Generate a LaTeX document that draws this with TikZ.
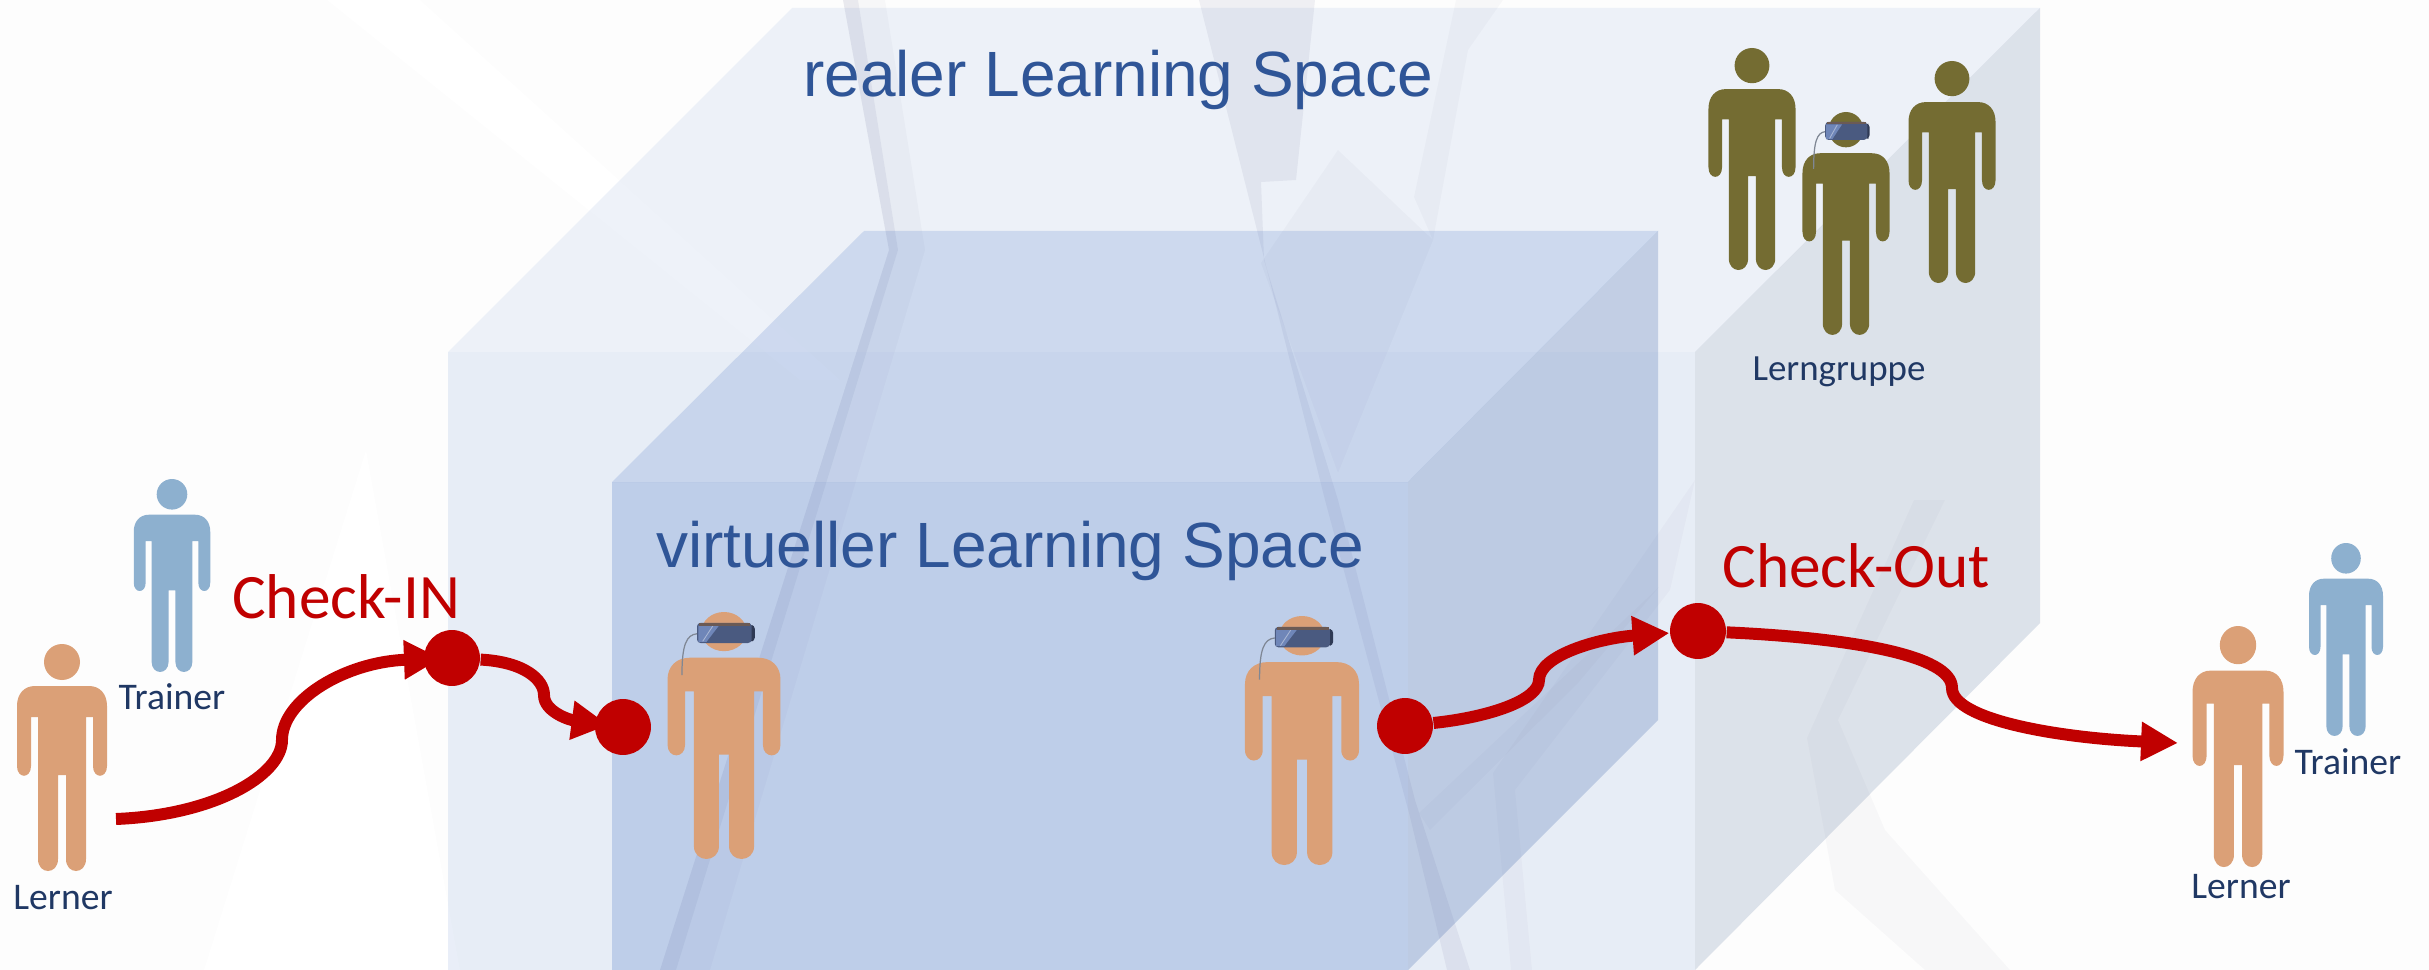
\documentclass[tikz,border=0pt]{standalone}
\usepackage{xcolor}
\usepackage{fontspec}
\setmainfont{Carlito}
\newfontfamily\headfont{Liberation Sans}
\usetikzlibrary{arrows.meta,calc}
\definecolor{backfill}{HTML}{FDFDFD}
\definecolor{learnerfill}{HTML}{DBA077}
\definecolor{trainerfill}{HTML}{8DB0CF}
\definecolor{groupfill}{HTML}{746C32}
\definecolor{labeltext}{HTML}{203864}
\definecolor{headtext}{HTML}{2F5597}
\definecolor{flowred}{HTML}{C00000}
\definecolor{boxblue}{HTML}{4472C4}
\definecolor{boxside}{HTML}{3F5F8F}
\definecolor{innerside}{HTML}{3A62A8}
\definecolor{visormain}{HTML}{4A5A80}
\definecolor{visorlight}{HTML}{6F86B8}
\definecolor{visorend}{HTML}{2F3A55}
\definecolor{visortop}{HTML}{6B5A55}
\definecolor{cablegray}{HTML}{7F8794}
\newcommand{\personshape}{
	\path [pic actions] (0,18) ellipse [x radius=18, y radius=18];
	\path [pic actions] (-27,42) -- (27,42) .. controls (38,42) and (45,50) .. (45,62) -- (45,122) .. controls (45,135) and (31,135) .. (31,122) -- (31,73) -- (24,73) -- (24,215) .. controls (24,231) and (4,231) .. (4,215) -- (4,131) -- (-4,131) -- (-4,215) .. controls (-4,231) and (-24,231) .. (-24,215) -- (-24,73) -- (-31,73) -- (-31,122) .. controls (-31,135) and (-45,135) .. (-45,122) -- (-45,62) .. controls (-45,50) and (-38,42) .. (-27,42) -- cycle;
}
\tikzset{
	pics/person/.style={code={\personshape}},
	pics/vrperson/.style={code={
		\personshape
		\draw [cablegray, line width=0.35pt] (-21.5,20) .. controls (-30,21) and (-33.5,30) .. (-33.5,58);
		\fill [visorend, rounded corners=1pt] (20,12) rectangle (24.5,27);
		\fill [visormain, rounded corners=1pt] (-21.5,10) rectangle (22,28.5);
		\fill [visorlight] (-20.5,12.5) -- (-4,12.5) -- (-14,27.5) -- (-20.5,27.5) -- cycle;
		\fill [visortop] (-20,10) rectangle (21,12.5);
		\draw [visorlight!60!white, line width=0.25pt] (-9,13) -- (-17,27);
	}},
}
\begin{document}
\begin{tikzpicture}[x=0.01cm, y=-0.01cm]
		\tikzstyle{every node}=[font=\fontsize{10.7}{12}\selectfont, text=labeltext]
		\tikzstyle{headlabel}=[font=\headfont\fontsize{18.2}{22}\selectfont, text=headtext]
		\tikzstyle{flowlabel}=[font=\fontsize{18}{21}\selectfont, text=flowred]
		\tikzstyle{streak}=[fill=black!70!blue, fill opacity=0.055]
		\tikzstyle{faint}=[fill=black!70!blue, fill opacity=0.025]
		\tikzstyle{flowdot}=[circle, fill=flowred, minimum size=15.9pt, inner sep=0pt]
		\tikzstyle{flow}=[line width=3.4pt, flowred, -{Triangle[length=10.5pt, width=10.5pt]}]
		\useasboundingbox (0,0) rectangle (2429,970);
		% background
		\fill [backfill] (0,0) rectangle (2429,970);
		\fill [white] (327,0) -- (420,0) -- (840,380) -- (800,380) -- cycle;
		\fill [white] (366,450) -- (204,970) -- (460,970) -- cycle;
		\fill [faint] (843,0) -- (885,0) -- (925,250) -- (710,970) -- (660,970) -- (889,250) -- cycle;
		\fill [streak] (843,0) -- (858,0) -- (898,250) -- (676,970) -- (660,970) -- (889,250) -- cycle;
		\fill [streak] (1199,0) -- (1315,0) -- (1296,180) -- (1261,182) -- (1264,260) -- (1338,500) -- (1415,800) -- (1470,970) -- (1447,970) -- (1409,813) -- (1325,500) -- cycle;
		\fill [faint] (1456,0) -- (1503,0) -- (1468,50) -- (1433,240) -- (1414,197) -- cycle;
		\fill [faint] (1338,150) -- (1261,263) -- (1338,473) -- (1433,240) -- cycle;
		\fill [faint] (1695,480) -- (1493,773) -- (1511,970) -- (1532,970) -- (1515,790) -- (1670,590) -- cycle;
		\fill [faint] (1659,587) -- (1419,813) -- (1430,830) -- (1578,683) -- cycle;
		\fill [faint] (1914,500) -- (1807,738) -- (1835,890) -- (1925,970) -- (2010,970) -- (1885,830) -- (1838,720) -- (1945,500) -- cycle;
		% real space
		\fill [boxblue, fill opacity=0.085] (448,352) -- (792,8) -- (2040,8) -- (1695,352) -- cycle;
		\fill [boxblue, fill opacity=0.115] (448,352) rectangle (1695,970);
		\fill [boxside, fill opacity=0.17] (1695,352) -- (2040,8) -- (2040,623) -- (1695,970) -- cycle;
		% virtual space
		\fill [boxblue, fill opacity=0.19] (612,482) -- (864,231) -- (1658,231) -- (1408,482) -- cycle;
		\fill [boxblue, fill opacity=0.25] (612,482) rectangle (1408,970);
		\fill [innerside, fill opacity=0.24] (1408,482) -- (1658,231) -- (1658,720) -- (1408,970) -- cycle;
		\node [headlabel] (reallabel) at (1118,80) {realer Learning Space};
		\node [headlabel] (virtuallabel) at (1010,551) {virtueller Learning Space};
		% people
		\pic [fill=learnerfill] (lernerin) at (62,644) {person};
		\pic [fill=trainerfill, scale=0.85] (trainerin) at (172,479) {person};
		\pic [fill=learnerfill, xscale=1.255, yscale=1.088] (vrleft) at (724,612) {vrperson};
		\pic [fill=learnerfill, xscale=1.267, yscale=1.097] (vrright) at (1302,616) {vrperson};
		\pic [fill=groupfill, xscale=0.967, yscale=0.978] (groupa) at (1752,48) {person};
		\pic [fill=groupfill, xscale=0.967, yscale=0.982] (groupb) at (1846,112) {vrperson};
		\pic [fill=groupfill, xscale=0.967, yscale=0.978] (groupc) at (1952,61) {person};
		\pic [fill=learnerfill, xscale=1.011, yscale=1.062] (lernerout) at (2238,626) {person};
		\pic [fill=trainerfill, xscale=0.822, yscale=0.85] (trainerout) at (2346,543) {person};
		\node (lernerlabelin) at (63,898) {Lerner};
		\node (trainerlabelin) at (172,697) {Trainer};
		\node [font=\fontsize{10.5}{12}\selectfont] (grouplabel) at (1839,372) {Lerngruppe};
		\node (lernerlabelout) at (2241,887) {Lerner};
		\node (trainerlabelout) at (2348,762) {Trainer};
		% check-in and check-out
		\node [flowlabel] (checkin) at (346,597) {Check-IN};
		\node [flowlabel] (checkout) at (1856,566) {Check-Out};
		\node [flowdot] (dotin) at (452,658) {};
		\node [flowdot] (dotvrin) at (623,727) {};
		\node [flowdot] (dotvrout) at (1405,726) {};
		\node [flowdot] (dotout) at (1698,631) {};
		\coordinate (flowstart) at (116,819);
		\coordinate (flowend) at (2178,743);
		\draw [flow, shorten >=-5pt] (flowstart) .. controls (215,815) and (282,775) .. (282,740) .. controls (282,700) and (345,662) .. (dotin);
		\draw [flow, shorten >=-4pt] (dotin) .. controls (525,662) and (544,680) .. (544,695) .. controls (544,712) and (570,720) .. (dotvrin);
		\draw [flow] (dotvrout) .. controls (1490,717) and (1539,700) .. (1539,680) .. controls (1539,655) and (1600,638) .. (dotout);
		\draw [flow] (dotout) .. controls (1850,638) and (1952,655) .. (1952,688) .. controls (1952,720) and (2060,738) .. (flowend);
		\end{tikzpicture}
\end{document}
